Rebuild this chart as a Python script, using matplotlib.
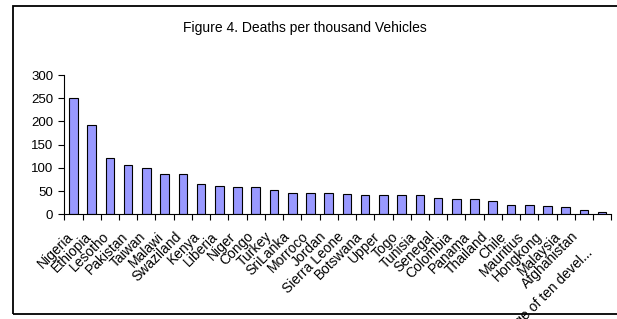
import matplotlib
matplotlib.use("Agg")
import matplotlib.pyplot as plt
from matplotlib.patches import Rectangle
from matplotlib.transforms import ScaledTranslation

countries = ["Nigeria", "Ethiopia", "Lesotho", "Pakistan", "Taiwan", "Malawi",
             "Swaziland", "Kenya", "Liberia", "Niger", "Congo", "Turkey",
             "SriLanka", "Morroco", "Jordan", "Sierra Leone", "Botswana", "Upper",
             "Togo", "Tunisia", "Senegal", "Colombia", "Panama", "Thailand",
             "Chile", "Mauritius", "Hongkong", "Malaysia", "Afghanistan",
             "Average of ten devel..."]
deaths = [250, 192, 121, 106, 100, 86, 86, 65, 62, 59, 59, 53, 45, 45, 45, 43,
          42, 42, 42, 42, 36, 33, 33, 29, 21, 21, 18, 15, 9, 6]
yticks = [0, 50, 100, 150, 200, 250, 300]
title = "Figure 4. Deaths per thousand Vehicles"

plt.rcParams['font.family'] = ['Liberation Sans', 'DejaVu Sans']

W, H = 617, 319
fig = plt.figure(figsize=(W / 100, H / 100), dpi=100)
fig.patches.append(Rectangle((13 / W, 1 - 314 / H), 620 / W, (314 - 6) / H,
                             transform=fig.transFigure, fill=False,
                             edgecolor='black', linewidth=1.3, zorder=0))

ax = fig.add_axes([64.3 / W, 1 - 214.3 / H, 547 / W, 139.3 / H])
x = list(range(len(countries)))
ax.bar(x, deaths, width=0.47, color='#9999FF', edgecolor='black', linewidth=0.8)
ax.set_xlim(-0.5, len(countries) - 0.5)
ax.set_ylim(0, 300)
ax.set_yticks(yticks)
ax.set_yticklabels([str(v) for v in yticks], fontsize=9.5)
for s in ['top', 'right']:
    ax.spines[s].set_visible(False)
for s in ['left', 'bottom']:
    ax.spines[s].set_linewidth(0.8)
ax.tick_params(axis='y', direction='out', length=4, width=0.8, pad=4)

ax.set_xticks([i - 0.5 for i in range(len(countries) + 1)])
ax.set_xticklabels([])
ax.tick_params(axis='x', direction='out', length=4, width=0.8)
ax.set_xticks(x, minor=True)
ax.set_xticklabels(countries, minor=True, rotation=45, ha='right', va='top',
                   rotation_mode='anchor', fontsize=10)
ax.tick_params(axis='x', which='minor', length=0, pad=13)

labels = ax.get_xticklabels(minor=True)
for i, lab in enumerate(labels):
    dx = -7 - 0.2 * i
    dy = 3
    if i == len(labels) - 1:
        dx -= 4
        dy -= 16
    lab.set_transform(lab.get_transform() +
                      ScaledTranslation(dx / 100, dy / 100, fig.dpi_scale_trans))

fig.text(305 / W, 1 - 28 / H, title, ha='center', va='center', fontsize=10)

fig.savefig("out.png", dpi=100)
